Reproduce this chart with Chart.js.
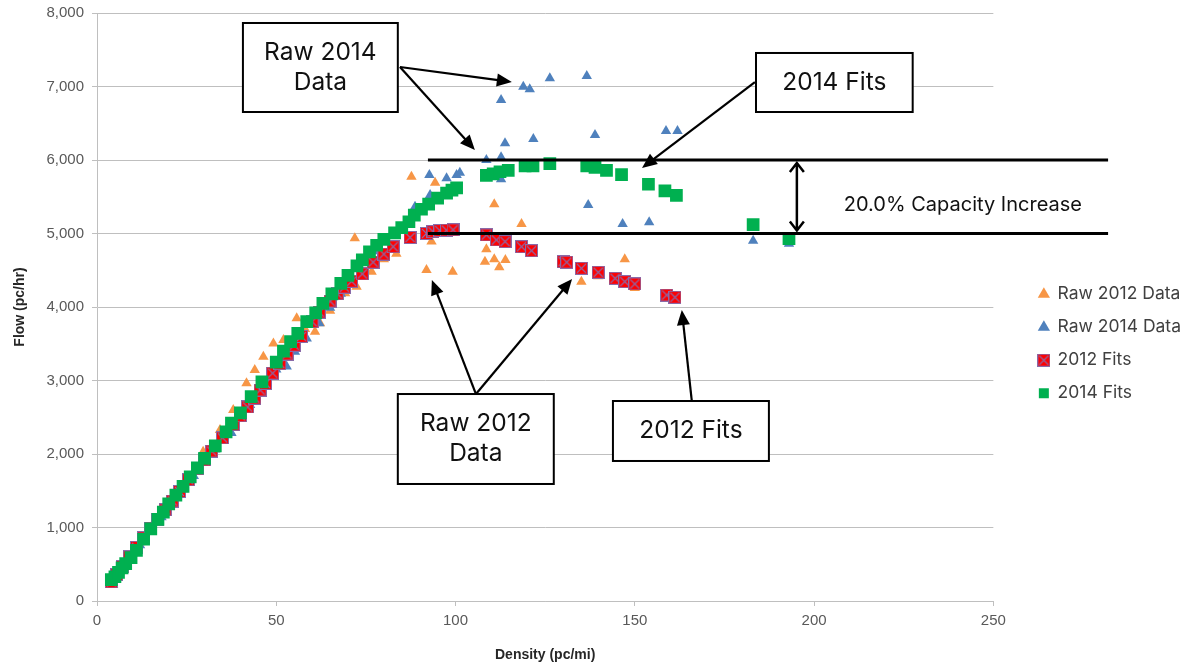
<!DOCTYPE html>
<html>
<head>
<meta charset="utf-8">
<script src="https://cdn.jsdelivr.net/npm/chart.js"></script>
<style>
  html, body { margin: 0; padding: 0; background: #fff; }
  #wrap { width: 1185px; height: 664px; }
</style>
</head>
<body>
<div id="wrap"><canvas id="flowChart" width="1185" height="664"></canvas></div>
<script>
// Flow vs density, 2012 and 2014 raw data with fitted points

// === DATA ===
const raw2012Density = [4.5, 6, 8, 10, 12, 14, 16, 19, 22, 25, 29.6, 34.3, 38, 41.7, 44, 46.4, 49.2, 52, 55.7, 58, 60.8, 62.2, 65, 69.2, 72.4, 71.9, 76.6, 80, 83.5, 87.7, 94.3, 93.3, 91.9, 99.2, 110.8, 108.6, 108.2, 110.8, 113.9, 112.2, 118.4, 135.1, 139.8, 144.5, 147.2, 150, 158.9, 161.2];
const raw2012Flow = [220, 380, 520, 650, 800, 940, 1080, 1290, 1480, 1680, 2031, 2327, 2600, 2961, 3143, 3324, 3505, 3550, 3846, 3700, 3664, 3778, 3950, 4186, 4276, 4935, 4480, 4650, 4724, 5773, 5691, 4890, 4503, 4480, 5397, 4785, 4617, 4649, 4640, 4540, 5129, 4345, 4420, 4367, 4649, 4258, 4110, 4090];

const raw2014Density = [5, 7, 9, 12, 15, 18, 21, 24, 27, 30, 33, 37.5, 42.7, 46, 50, 52.9, 55.2, 58.5, 62, 65, 68, 71, 75, 78, 81, 84, 86, 88.7, 90, 92.9, 92.7, 97.5, 100.3, 101.2, 108.6, 112.7, 112.7, 113.8, 112.7, 118.9, 120.7, 121.7, 126.3, 136.6, 137, 138.9, 146.6, 154, 158.7, 161.9, 183, 193];
const raw2014Flow = [300, 420, 560, 760, 950, 1140, 1330, 1520, 1700, 1880, 2060, 2285, 2667, 2900, 3150, 3189, 3392, 3572, 3780, 3990, 4180, 4380, 4600, 4760, 4900, 5040, 5130, 5365, 5300, 5524, 5796, 5751, 5796, 5827, 6000, 6037, 5737, 6227, 6816, 6997, 6961, 6286, 7112, 7143, 5388, 6340, 5129, 5152, 6395, 6395, 4900, 4860];

const fit2012Density = [4, 5.5, 7, 9, 11, 13, 15, 17, 19, 21, 23, 25.5, 28, 30, 32, 35, 38, 40, 42, 44, 45.5, 47, 49, 51, 53, 55, 57, 60, 62, 65, 67, 69, 71, 74, 77, 80, 82.6, 87.3, 91.9, 93.7, 95.6, 97.5, 99.3, 108.6, 111.4, 113.8, 118.4, 121.2, 130, 131, 135.1, 139.8, 144.5, 147.2, 150, 158.9, 161.2];
const fit2012Flow = [260, 360, 470, 600, 730, 860, 990, 1110, 1240, 1360, 1490, 1650, 1800, 1920, 2040, 2220, 2400, 2520, 2640, 2760, 2870, 2960, 3100, 3230, 3360, 3480, 3600, 3800, 3930, 4080, 4180, 4270, 4350, 4450, 4610, 4720, 4820, 4946, 5000, 5025, 5040, 5045, 5050, 4980, 4912, 4890, 4820, 4766, 4617, 4610, 4527, 4472, 4390, 4345, 4313, 4163, 4132];

const fit2014Density = [4, 5, 6, 7, 8, 9.5, 11, 13, 15, 17, 18.5, 20, 22, 24, 26, 28, 30, 33, 36, 37.5, 40, 43, 46, 50, 52, 54, 56, 58.5, 61, 63, 65.5, 68, 70, 72.5, 74, 76, 78, 80, 83, 85, 87, 88.5, 90.5, 92.5, 95, 97.5, 99, 100.3, 108.6, 110.5, 112.4, 114.7, 119.4, 121.6, 126.3, 136.6, 138.9, 142.1, 146.3, 153.8, 158.4, 161.6, 183, 193];
const fit2014Flow = [290, 330, 390, 450, 510, 590, 690, 840, 980, 1110, 1210, 1320, 1440, 1560, 1690, 1810, 1940, 2110, 2300, 2420, 2560, 2780, 2980, 3250, 3400, 3530, 3640, 3800, 3920, 4050, 4180, 4320, 4430, 4560, 4640, 4750, 4840, 4920, 5010, 5080, 5160, 5250, 5330, 5400, 5480, 5550, 5590, 5620, 5790, 5810, 5840, 5860, 5920, 5920, 5950, 5920, 5900, 5860, 5800, 5670, 5580, 5520, 5120, 4930];

const capacity2012 = 5000;
const capacity2014 = 6000;
const capacityLabel = "20.0% Capacity Increase";

// callout boxes and arrows, in data units (density, flow)
const callouts = [
    { lines: ["Raw 2014", "Data"], box: [40.7, 7864, 83.9, 6653], from: [84.5, 7265], to: [[115.7, 7061], [105.4, 6136]] },
    { lines: ["2014 Fits"], box: [183.8, 7456, 227.5, 6653], from: [183.5, 7061], to: [[152, 5891]] },
    { lines: ["Raw 2012", "Data"], box: [83.9, 2816, 127.4, 1592], from: [105.7, 2816], to: [[93.4, 4367], [132.5, 4381]] },
    { lines: ["2012 Fits"], box: [143.9, 2721, 187.4, 1905], from: [165.9, 2721], to: [[163.1, 3959]] }
];

function toPoints(xs, ys) {
    return xs.map((x, i) => ({ x: x, y: ys[i] }));
}

// red square with a purple cross for the 2012 fits
function makeFitMarker() {
    const c = document.createElement("canvas");
    c.width = 13; c.height = 13;
    const g = c.getContext("2d");
    g.fillStyle = "#ff0000";
    g.fillRect(0, 0, 13, 13);
    g.strokeStyle = "#8a6aa8";
    g.lineWidth = 1.1;
    g.strokeRect(0.5, 0.5, 12, 12);
    g.beginPath();
    g.moveTo(2, 2); g.lineTo(11, 11);
    g.moveTo(11, 2); g.lineTo(2, 11);
    g.stroke();
    return c;
}

function arrowHead(ctx, x1, y1, x2, y2, len, wid) {
    const a = Math.atan2(y2 - y1, x2 - x1);
    ctx.beginPath();
    ctx.moveTo(x2, y2);
    ctx.lineTo(x2 - len * Math.cos(a) + wid * Math.sin(a), y2 - len * Math.sin(a) - wid * Math.cos(a));
    ctx.lineTo(x2 - len * Math.cos(a) - wid * Math.sin(a), y2 - len * Math.sin(a) + wid * Math.cos(a));
    ctx.closePath();
    ctx.fill();
}

// === ANNOTATIONS (lines, callouts, capacity arrow) ===
const annotationPlugin = {
    id: "flowAnnotations",
    afterDatasetsDraw(chart) {
        const ctx = chart.ctx;
        const xs = chart.scales.x, ys = chart.scales.y;
        const px = v => xs.getPixelForValue(v);
        const py = v => ys.getPixelForValue(v);
        ctx.save();

        // capacity lines
        ctx.strokeStyle = "#000";
        ctx.lineWidth = 3;
        [capacity2014, capacity2012].forEach(v => {
            ctx.beginPath();
            ctx.moveTo(px(92.3), py(v));
            ctx.lineTo(px(282), py(v));
            ctx.stroke();
        });

        // double arrow between them
        const ax = px(195.2), ay1 = py(capacity2014) + 3, ay2 = py(capacity2012) - 3;
        ctx.lineWidth = 2.5;
        ctx.beginPath();
        ctx.moveTo(ax, ay1); ctx.lineTo(ax, ay2);
        ctx.moveTo(ax - 7, ay1 + 9); ctx.lineTo(ax, ay1); ctx.lineTo(ax + 7, ay1 + 9);
        ctx.moveTo(ax - 7, ay2 - 9); ctx.lineTo(ax, ay2); ctx.lineTo(ax + 7, ay2 - 9);
        ctx.stroke();

        ctx.fillStyle = "#111";
        ctx.font = "20px Inter, 'Open Sans', sans-serif";
        ctx.textAlign = "center";
        ctx.textBaseline = "middle";
        ctx.fillText(capacityLabel, px(241.5), py(5388));

        // callouts
        callouts.forEach(c => {
            const fx = px(c.from[0]), fy = py(c.from[1]);
            ctx.strokeStyle = "#000";
            ctx.fillStyle = "#000";
            ctx.lineWidth = 2.2;
            c.to.forEach(t => {
                const tx = px(t[0]), ty = py(t[1]);
                const a = Math.atan2(ty - fy, tx - fx);
                ctx.beginPath();
                ctx.moveTo(fx, fy);
                ctx.lineTo(tx - 10 * Math.cos(a), ty - 10 * Math.sin(a));
                ctx.stroke();
                arrowHead(ctx, fx, fy, tx, ty, 15, 6.5);
            });
            const bx1 = px(c.box[0]), by1 = py(c.box[1]), bx2 = px(c.box[2]), by2 = py(c.box[3]);
            ctx.fillStyle = "#fff";
            ctx.fillRect(bx1, by1, bx2 - bx1, by2 - by1);
            ctx.lineWidth = 2;
            ctx.strokeRect(bx1, by1, bx2 - bx1, by2 - by1);
            ctx.fillStyle = "#111";
            ctx.font = "24.5px Inter, 'Open Sans', sans-serif";
            const cx = (bx1 + bx2) / 2, cy = (by1 + by2) / 2;
            const lh = 30;
            c.lines.forEach((t, i) => {
                ctx.fillText(t, cx, cy + (i - (c.lines.length - 1) / 2) * lh);
            });
        });
        ctx.restore();
    }
};

const tickFont = { family: "'Liberation Sans', Arial, sans-serif", size: 15 };
const titleFont = { family: "'Liberation Sans Narrow', 'Liberation Sans', Arial, sans-serif", size: 14, weight: "bold" };

new Chart(document.getElementById("flowChart"), {
    type: "scatter",
    data: {
        datasets: [
            {
                label: "Raw 2012 Data",
                data: toPoints(raw2012Density, raw2012Flow),
                pointStyle: "triangle",
                pointRadius: 6,
                backgroundColor: "#f79646",
                borderColor: "#f79646",
                borderWidth: 0,
                order: 4
            },
            {
                label: "Raw 2014 Data",
                data: toPoints(raw2014Density, raw2014Flow),
                pointStyle: "triangle",
                pointRadius: 6,
                backgroundColor: "#4f81bd",
                borderColor: "#4f81bd",
                borderWidth: 0,
                order: 3
            },
            {
                label: "2012 Fits",
                data: toPoints(fit2012Density, fit2012Flow),
                pointStyle: makeFitMarker(),
                backgroundColor: "#ff0000",
                borderColor: "#8064a2",
                order: 2
            },
            {
                label: "2014 Fits",
                data: toPoints(fit2014Density, fit2014Flow),
                pointStyle: "rect",
                pointRadius: 9,
                backgroundColor: "#00b050",
                borderColor: "#00b050",
                borderWidth: 0,
                order: 1
            }
        ]
    },
    options: {
        responsive: false,
        animation: false,
        layout: { padding: { left: 8, right: -6, top: 13, bottom: 0 } },
        scales: {
            x: {
                type: "linear",
                min: 0, max: 250,
                ticks: { stepSize: 50, color: "#595959", font: tickFont, padding: 6 },
                grid: { drawOnChartArea: false, color: "#bfbfbf", tickLength: 5 },
                border: { color: "#bfbfbf" },
                title: { display: true, text: "Density (pc/mi)", color: "#262626", font: titleFont, padding: { top: 6, bottom: 0 } },
                afterFit: s => { s.height = 63; }
            },
            y: {
                min: 0, max: 8000,
                ticks: { stepSize: 1000, color: "#595959", font: tickFont, padding: 8 },
                grid: { color: "#bfbfbf", tickLength: 5 },
                border: { color: "#bfbfbf" },
                title: { display: true, text: "Flow (pc/hr)", color: "#262626", font: titleFont, padding: 4 },
                afterFit: s => { s.width = 89; s.paddingTop = 0; s.paddingBottom = 0; }
            },
            // empty gap between the plot and the legend
            gap: {
                position: "right",
                ticks: { display: false },
                grid: { display: false },
                border: { display: false },
                afterFit: s => { s.width = 30; }
            }
        },
        plugins: {
            legend: {
                position: "right",
                title: { display: true, text: " ", font: { size: 2 }, padding: 4 },
                labels: {
                    usePointStyle: true,
                    boxWidth: 10,
                    boxHeight: 10,
                    padding: 15.5,
                    color: "#404040",
                    font: { family: "Inter, 'Open Sans', sans-serif", size: 17.5 },
                    sort: (a, b) => a.datasetIndex - b.datasetIndex
                }
            },
            tooltip: { enabled: false }
        }
    },
    plugins: [annotationPlugin]
});
</script>
</body>
</html>
